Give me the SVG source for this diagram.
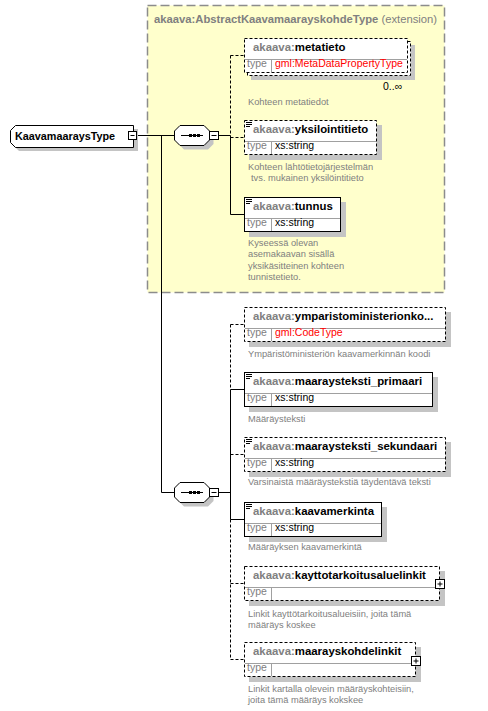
<svg xmlns="http://www.w3.org/2000/svg" width="488" height="711" viewBox="0 0 488 711">
<style>
.bg{fill:#ffffff}
.ext{fill:#ffffcc;stroke:#8c8c8c;stroke-width:1.5;stroke-dasharray:9,4}
.sh{fill:#c4c4c4}
.box{fill:#ffffff;stroke:#000000;stroke-width:1}
.opt{stroke-dasharray:3,2}
.sep{stroke:#a0a0a0;stroke-width:1;fill:none}
.hd{font-family:"Liberation Sans",Arial,sans-serif;font-size:11.4px;font-weight:bold;fill:#000000}
.pre{fill:#808080}
.root{font-family:"Liberation Sans",Arial,sans-serif;font-size:10.8px;font-weight:bold;fill:#000000}
.tl{font-family:"Liberation Sans",Arial,sans-serif;font-size:10.5px;fill:#808080}
.tv{font-family:"Liberation Sans",Arial,sans-serif;font-size:10.5px;fill:#000000}
.red{fill:#ff0000}
.ds{font-family:"Liberation Sans",Arial,sans-serif;font-size:9.3px;fill:#808080}
.ttl{font-family:"Liberation Sans",Arial,sans-serif;font-size:11.25px;fill:#808080}
.ln{stroke:#000000;stroke-width:1;fill:none}
.dl{stroke:#000000;stroke-width:1;fill:none;stroke-dasharray:3,2}
.btn{fill:#ffffff;stroke:#000000;stroke-width:1}
.ic{stroke:#000000;stroke-width:1}
</style>
<rect class="bg" x="0" y="0" width="488" height="711"/>

<g id="extension">
<rect class="ext" x="147.5" y="5.5" width="297" height="287"/>
<text class="ttl" x="154" y="23"><tspan font-weight="bold">akaava:AbstractKaavamaarayskohdeType</tspan> (extension)</text>
</g>

<g id="connectors">
<line class="ln" x1="137" y1="135.5" x2="175" y2="135.5"/>
<line class="ln" x1="161.5" y1="135.5" x2="161.5" y2="492.5"/>
<line class="ln" x1="161.5" y1="492.5" x2="175" y2="492.5"/>
<line class="ln" x1="218.5" y1="135.5" x2="230.5" y2="135.5"/>
<line class="dl" x1="230.5" y1="55.5" x2="230.5" y2="135.5"/>
<line class="ln" x1="230.5" y1="135.5" x2="230.5" y2="214.5"/>
<line class="dl" x1="230.5" y1="55.5" x2="244" y2="55.5"/>
<line class="dl" x1="230.5" y1="137.5" x2="244" y2="137.5"/>
<line class="ln" x1="230.5" y1="214.5" x2="244" y2="214.5"/>
<line class="ln" x1="218.5" y1="492.5" x2="230.5" y2="492.5"/>
<line class="dl" x1="230.5" y1="324.5" x2="230.5" y2="389.5"/>
<line class="ln" x1="230.5" y1="389.5" x2="230.5" y2="519.5"/>
<line class="dl" x1="230.5" y1="519.5" x2="230.5" y2="659.5"/>
<line class="dl" x1="230.5" y1="324.5" x2="244" y2="324.5"/>
<line class="ln" x1="230.5" y1="389.5" x2="244" y2="389.5"/>
<line class="dl" x1="230.5" y1="454.5" x2="244" y2="454.5"/>
<line class="ln" x1="230.5" y1="519.5" x2="244" y2="519.5"/>
<line class="dl" x1="230.5" y1="583.5" x2="244" y2="583.5"/>
<line class="dl" x1="230.5" y1="659.5" x2="244" y2="659.5"/>
</g>

<g id="KaavamaaraysType">
<path class="sh" d="M19,129 H138 V151 H19 L14,146 V134 Z"/>
<path class="box" d="M15.5,125.5 H133.5 V147.5 H15.5 L10.5,142.5 V130.5 Z"/>
<text class="root" x="15" y="140">KaavamaaraysType</text>
<rect class="btn" x="128.5" y="131.5" width="8" height="8"/>
<line class="ic" x1="130.5" y1="135.5" x2="134.5" y2="135.5"/>
</g>

<g id="sequence1">
<path class="sh" d="M184,129.5 H208 L213.5,135 V144 L208,149.5 H184 L178.5,144 V135 Z"/>
<path class="box" d="M180,125.5 H204 L209.5,131 V140 L204,145.5 H180 L174.5,140 V131 Z"/>
<line class="ic" x1="181" y1="135.5" x2="203" y2="135.5"/>
<rect x="189" y="134" width="3" height="3"/>
<rect x="193" y="134" width="3" height="3"/>
<rect x="197" y="134" width="3" height="3"/>
<rect class="btn" x="209.5" y="131.5" width="9" height="8"/>
<line class="ic" x1="211.5" y1="135.5" x2="216.5" y2="135.5"/>
</g>

<g id="sequence2">
<path class="sh" d="M184,486.5 H208 L213.5,492 V501 L208,506.5 H184 L178.5,501 V492 Z"/>
<path class="box" d="M180,482.5 H204 L209.5,488 V497 L204,502.5 H180 L174.5,497 V488 Z"/>
<line class="ic" x1="181" y1="492.5" x2="203" y2="492.5"/>
<rect x="189" y="491" width="3" height="3"/>
<rect x="193" y="491" width="3" height="3"/>
<rect x="197" y="491" width="3" height="3"/>
<rect class="btn" x="209.5" y="488.5" width="9" height="8"/>
<line class="ic" x1="211.5" y1="492.5" x2="216.5" y2="492.5"/>
</g>

<g id="metatieto">
<rect class="sh" x="251" y="45" width="164" height="35"/>
<rect class="box opt" x="247.5" y="41.5" width="163" height="34"/>
<rect class="box opt" x="244.5" y="38.5" width="163" height="34"/>
<line class="sep" x1="245" y1="59.5" x2="407" y2="59.5"/>
<line class="sep" x1="271.5" y1="60" x2="271.5" y2="72"/>
<text class="hd" x="253" y="51"><tspan class="pre">akaava:</tspan>metatieto</text>
<text class="tl" x="247" y="67">type</text>
<text class="tv red" x="275" y="67">gml:MetaDataPropertyType</text>
<text class="tv" x="383" y="90">0..∞</text>
<text class="ds" x="248" y="105">Kohteen metatiedot</text>
</g>

<g id="yksilointitieto">
<rect class="sh" x="249" y="125" width="133" height="35"/>
<rect class="box opt" x="244.5" y="120.5" width="132" height="34"/>
<line class="sep" x1="245" y1="141.5" x2="376" y2="141.5"/>
<line class="sep" x1="271.5" y1="142" x2="271.5" y2="154"/>
<line class="ic" x1="246" y1="122.5" x2="252" y2="122.5"/>
<line class="ic" x1="246" y1="124.5" x2="252" y2="124.5"/>
<line class="ic" x1="246" y1="126.5" x2="250" y2="126.5"/>
<text class="hd" x="253" y="133"><tspan class="pre">akaava:</tspan>yksilointitieto</text>
<text class="tl" x="247" y="149">type</text>
<text class="tv" x="275" y="149">xs:string</text>
<text class="ds" x="248" y="170">Kohteen lähtötietojärjestelmän</text>
<text class="ds" x="251" y="181.3">tvs. mukainen yksilöintitieto</text>
</g>

<g id="tunnus">
<rect class="sh" x="249" y="202" width="97" height="35"/>
<rect class="box" x="244.5" y="197.5" width="96" height="34"/>
<line class="sep" x1="245" y1="218.5" x2="340" y2="218.5"/>
<line class="sep" x1="271.5" y1="219" x2="271.5" y2="231"/>
<line class="ic" x1="246" y1="199.5" x2="252" y2="199.5"/>
<line class="ic" x1="246" y1="201.5" x2="252" y2="201.5"/>
<line class="ic" x1="246" y1="203.5" x2="250" y2="203.5"/>
<text class="hd" x="253" y="210"><tspan class="pre">akaava:</tspan>tunnus</text>
<text class="tl" x="247" y="226">type</text>
<text class="tv" x="275" y="226">xs:string</text>
<text class="ds" x="248" y="246">Kyseessä olevan</text>
<text class="ds" x="248" y="257.3">asemakaavan sisällä</text>
<text class="ds" x="248" y="268.6">yksikäsitteinen kohteen</text>
<text class="ds" x="248" y="279.9">tunnistetieto.</text>
</g>

<g id="ymparistoministerionkoodi">
<rect class="sh" x="249" y="312" width="202" height="35"/>
<rect class="box opt" x="244.5" y="307.5" width="201" height="34"/>
<line class="sep" x1="245" y1="328.5" x2="445" y2="328.5"/>
<line class="sep" x1="271.5" y1="329" x2="271.5" y2="341"/>
<text class="hd" x="253" y="320"><tspan class="pre">akaava:</tspan>ymparistoministerionko...</text>
<text class="tl" x="247" y="336">type</text>
<text class="tv red" x="275" y="336">gml:CodeType</text>
<text class="ds" x="248" y="357">Ympäristöministeriön kaavamerkinnän koodi</text>
</g>

<g id="maaraysteksti_primaari">
<rect class="sh" x="249" y="377" width="189" height="35"/>
<rect class="box" x="244.5" y="372.5" width="188" height="34"/>
<line class="sep" x1="245" y1="393.5" x2="432" y2="393.5"/>
<line class="sep" x1="271.5" y1="394" x2="271.5" y2="406"/>
<line class="ic" x1="246" y1="374.5" x2="252" y2="374.5"/>
<line class="ic" x1="246" y1="376.5" x2="252" y2="376.5"/>
<line class="ic" x1="246" y1="378.5" x2="250" y2="378.5"/>
<text class="hd" x="253" y="385"><tspan class="pre">akaava:</tspan>maaraysteksti_primaari</text>
<text class="tl" x="247" y="401">type</text>
<text class="tv" x="275" y="401">xs:string</text>
<text class="ds" x="248" y="422">Määräysteksti</text>
</g>

<g id="maaraysteksti_sekundaari">
<rect class="sh" x="249" y="442" width="202" height="35"/>
<rect class="box opt" x="244.5" y="437.5" width="201" height="34"/>
<line class="sep" x1="245" y1="458.5" x2="445" y2="458.5"/>
<line class="sep" x1="271.5" y1="459" x2="271.5" y2="471"/>
<line class="ic" x1="246" y1="439.5" x2="252" y2="439.5"/>
<line class="ic" x1="246" y1="441.5" x2="252" y2="441.5"/>
<line class="ic" x1="246" y1="443.5" x2="250" y2="443.5"/>
<text class="hd" x="253" y="450"><tspan class="pre">akaava:</tspan>maaraysteksti_sekundaari</text>
<text class="tl" x="247" y="466">type</text>
<text class="tv" x="275" y="466">xs:string</text>
<text class="ds" x="248" y="485">Varsinaistä määräystekstiä täydentävä teksti</text>
</g>

<g id="kaavamerkinta">
<rect class="sh" x="249" y="507" width="138" height="35"/>
<rect class="box" x="244.5" y="502.5" width="137" height="34"/>
<line class="sep" x1="245" y1="523.5" x2="381" y2="523.5"/>
<line class="sep" x1="271.5" y1="524" x2="271.5" y2="536"/>
<line class="ic" x1="246" y1="504.5" x2="252" y2="504.5"/>
<line class="ic" x1="246" y1="506.5" x2="252" y2="506.5"/>
<line class="ic" x1="246" y1="508.5" x2="250" y2="508.5"/>
<text class="hd" x="253" y="515"><tspan class="pre">akaava:</tspan>kaavamerkinta</text>
<text class="tl" x="247" y="531">type</text>
<text class="tv" x="275" y="531">xs:string</text>
<text class="ds" x="248" y="550">Määräyksen kaavamerkintä</text>
</g>

<g id="kayttotarkoitusaluelinkit">
<rect class="sh" x="249" y="571" width="196" height="35"/>
<rect class="box opt" x="244.5" y="566.5" width="195" height="34"/>
<line class="sep" x1="245" y1="587.5" x2="439" y2="587.5"/>
<line class="sep" x1="271.5" y1="588" x2="271.5" y2="600"/>
<text class="hd" x="253" y="579"><tspan class="pre">akaava:</tspan>kayttotarkoitusaluelinkit</text>
<text class="tl" x="247" y="595">type</text>
<rect class="btn" x="435.5" y="579.5" width="9" height="9"/>
<line class="ic" x1="437.5" y1="584" x2="442.5" y2="584"/>
<line class="ic" x1="440" y1="581.5" x2="440" y2="586.5"/>
<text class="ds" x="248" y="617">Linkit kayttötarkoitusalueisiin, joita tämä</text>
<text class="ds" x="248" y="628">määräys koskee</text>
</g>

<g id="maarayskohdelinkit">
<rect class="sh" x="249" y="647" width="172" height="35"/>
<rect class="box opt" x="244.5" y="642.5" width="171" height="34"/>
<line class="sep" x1="245" y1="663.5" x2="415" y2="663.5"/>
<line class="sep" x1="271.5" y1="664" x2="271.5" y2="676"/>
<text class="hd" x="253" y="655"><tspan class="pre">akaava:</tspan>maarayskohdelinkit</text>
<text class="tl" x="247" y="671">type</text>
<rect class="btn" x="411.5" y="656.5" width="9" height="9"/>
<line class="ic" x1="413.5" y1="661" x2="418.5" y2="661"/>
<line class="ic" x1="416" y1="658.5" x2="416" y2="663.5"/>
<text class="ds" x="248" y="692">Linkit kartalla olevein määräyskohteisiin,</text>
<text class="ds" x="248" y="703">joita tämä määräys kokskee</text>
</g>
</svg>
